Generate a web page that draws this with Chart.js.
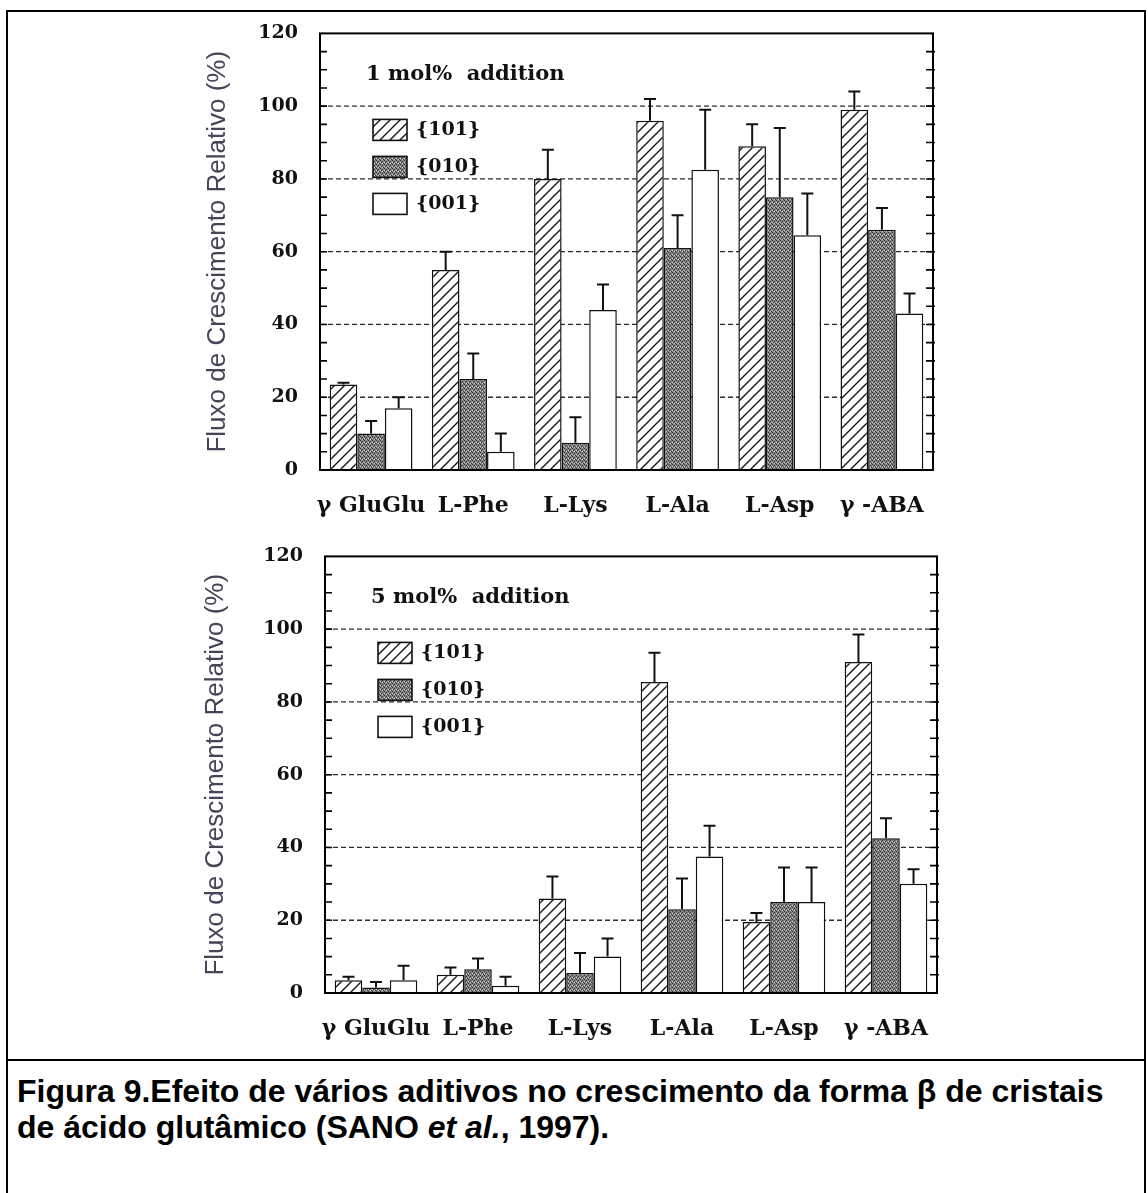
<!DOCTYPE html>
<html>
<head>
<meta charset="utf-8">
<script src="https://cdn.jsdelivr.net/npm/chart.js@4.4.0/dist/chart.umd.min.js"></script>
<style>
  html, body { margin: 0; padding: 0; background: #fff; }
  #page { position: relative; width: 1148px; height: 1193px; overflow: hidden; background: #fff; }
  .box { position: absolute; left: 6px; top: 10px; width: 1140px; height: 1200px;
         border: 2px solid #000; box-sizing: border-box; }
  .sep { position: absolute; left: 6px; top: 1059px; width: 1140px; height: 2px; background: #000; }
  canvas { position: absolute; left: 0; }
  #chartTop { top: 0; }
  #chartBottom { top: 523px; }
  .caption { position: absolute; left: 17px; top: 1073px; white-space: nowrap;
             font: bold 32px "Liberation Sans", Arial, sans-serif; line-height: 36px; color: #000; }
</style>
</head>
<body>
<div id="page">
  <div class="box"></div>
  <div class="sep"></div>
  <canvas id="chartTop" width="1148" height="540"></canvas>
  <canvas id="chartBottom" width="1148" height="540"></canvas>
  <div class="caption">Figura 9.Efeito de vários aditivos no crescimento da forma β de cristais<br>de ácido glutâmico (SANO <i>et al.</i>, 1997).</div>
</div>
<script>
// Additives on the x axis and crystal faces in the legend
const categories = ['γ GluGlu', 'L-Phe', 'L-Lys', 'L-Ala', 'L-Asp', 'γ -ABA'];
const faceLabels = ['{101}', '{010}', '{001}'];

// Relative growth flux (%) with 1 mol% additive
const face101_1mol = [23.5, 55, 80, 96, 89, 99];
const face010_1mol = [10, 25, 7.5, 61, 75, 66];
const face001_1mol = [17, 5, 44, 82.5, 64.5, 43];
const err101_1mol = [0.5, 5, 8, 6, 6, 5];
const err010_1mol = [3.5, 7, 7, 9, 19, 6];
const err001_1mol = [3, 5, 7, 16.5, 11.5, 5.5];

// Relative growth flux (%) with 5 mol% additive
const face101_5mol = [3.5, 5, 26, 85.5, 19.5, 91];
const face010_5mol = [1.5, 6.5, 5.5, 23, 25, 42.5];
const face001_5mol = [3.5, 2, 10, 37.5, 25, 30];
const err101_5mol = [1, 2, 6, 8, 2.5, 7.5];
const err010_5mol = [1.5, 3, 5.5, 8.5, 9.5, 5.5];
const err001_5mol = [4, 2.5, 5, 8.5, 9.5, 4];

// Axis
const yMin = 0, yMax = 120, yStep = 20;
const gridValues = [20, 40, 60, 80, 100];
const yAxisTitle = 'Fluxo de Crescimento Relativo (%)';
const panelTitles = ['1 mol%  addition', '5 mol%  addition'];

const SERIF = '"DejaVu Serif", "Liberation Serif", serif';

// Fill patterns for the three faces
function hatchPattern() {
  const s = 10;
  const c = document.createElement('canvas');
  c.width = s; c.height = s;
  const g = c.getContext('2d');
  g.fillStyle = '#fff';
  g.fillRect(0, 0, s, s);
  g.strokeStyle = '#151515';
  g.lineWidth = 1.4;
  g.beginPath();
  g.moveTo(0, s); g.lineTo(s, 0);
  g.moveTo(-2, 2); g.lineTo(2, -2);
  g.moveTo(s - 2, s + 2); g.lineTo(s + 2, s - 2);
  g.stroke();
  return g.createPattern(c, 'repeat');
}
function stipplePattern() {
  const c = document.createElement('canvas');
  c.width = 4; c.height = 4;
  const g = c.getContext('2d');
  g.fillStyle = '#858585';
  g.fillRect(0, 0, 4, 4);
  g.fillStyle = '#333333';
  [[0, 0], [2, 1], [1, 2], [3, 3]].forEach(([x, y]) => g.fillRect(x, y, 1, 1));
  g.fillStyle = '#d0d0d0';
  [[2, 3], [0, 2]].forEach(([x, y]) => g.fillRect(x, y, 1, 1));
  return g.createPattern(c, 'repeat');
}
const fills = [hatchPattern(), stipplePattern(), '#ffffff'];

// Dashed grid, frame, minor ticks, error bars, panel title and legend
const panelDecor = {
  id: 'panelDecor',
  beforeDatasetsDraw(chart) {
    const { ctx, chartArea: a, scales: { y } } = chart;
    ctx.save();
    ctx.strokeStyle = '#2b2b2b';
    ctx.lineWidth = 1.3;
    ctx.setLineDash([5, 3]);
    gridValues.forEach(v => {
      const py = y.getPixelForValue(v);
      ctx.beginPath();
      ctx.moveTo(a.left, py);
      ctx.lineTo(a.right, py);
      ctx.stroke();
    });
    ctx.restore();
  },
  afterDatasetsDraw(chart, args, opts) {
    const { ctx, chartArea: a, scales: { y } } = chart;
    ctx.save();
    ctx.strokeStyle = '#111';
    ctx.lineWidth = 2;
    chart.data.datasets.forEach((ds, i) => {
      chart.getDatasetMeta(i).data.forEach((bar, j) => {
        const top = y.getPixelForValue(ds.data[j] + opts.errors[i][j]);
        ctx.beginPath();
        ctx.moveTo(bar.x, bar.y);
        ctx.lineTo(bar.x, top);
        ctx.moveTo(bar.x - 6, top);
        ctx.lineTo(bar.x + 6, top);
        ctx.stroke();
      });
    });

    ctx.strokeStyle = '#000';
    ctx.lineWidth = 2;
    ctx.strokeRect(a.left, a.top, a.right - a.left, a.bottom - a.top);

    ctx.lineWidth = 1.6;
    for (let v = yMin + 5; v < yMax; v += 5) {
      const py = y.getPixelForValue(v);
      ctx.beginPath();
      ctx.moveTo(a.left, py); ctx.lineTo(a.left + 7, py);
      ctx.moveTo(a.right - 7, py); ctx.lineTo(a.right + 2, py);
      ctx.stroke();
    }

    ctx.fillStyle = '#111';
    ctx.textBaseline = 'middle';
    ctx.textAlign = 'left';
    ctx.font = 'bold 21px ' + SERIF;
    ctx.fillText(opts.title, a.left + 46, a.top + 41);

    ctx.font = 'bold 19px ' + SERIF;
    chart.data.datasets.forEach((ds, i) => {
      const bx = a.left + 53, by = a.top + 86 + i * 37;
      ctx.fillStyle = ds.backgroundColor;
      ctx.fillRect(bx, by, 34, 21);
      ctx.lineWidth = 1.6;
      ctx.strokeStyle = '#111';
      ctx.strokeRect(bx, by, 34, 21);
      ctx.fillStyle = '#111';
      ctx.fillText(ds.label, bx + 43, by + 11);
    });
    ctx.restore();
  }
};

function makeChart(id, series, errors, title, pad, yWidth) {
  return new Chart(document.getElementById(id), {
    type: 'bar',
    data: {
      labels: categories,
      datasets: series.map((d, i) => ({
        label: faceLabels[i],
        data: d,
        backgroundColor: fills[i],
        borderColor: '#111',
        borderWidth: 1.5,
        categoryPercentage: 0.81,
        barPercentage: 1.0
      }))
    },
    options: {
      responsive: false,
      animation: false,
      events: [],
      layout: { padding: pad },
      plugins: {
        legend: { display: false },
        tooltip: { enabled: false },
        panelDecor: { errors: errors, title: title }
      },
      scales: {
        x: {
          grid: { display: false, drawTicks: false },
          border: { display: false },
          ticks: {
            color: '#111', padding: 23, maxRotation: 0, autoSkip: false,
            font: { family: SERIF, weight: 'bold', size: 22 }
          },
          afterFit(s) { s.height = 70; }
        },
        y: {
          min: yMin, max: yMax,
          grid: { display: false, drawTicks: false },
          border: { display: false },
          ticks: {
            stepSize: yStep, color: '#111', padding: 22,
            font: { family: SERIF, weight: 'bold', size: 19 }
          },
          title: {
            display: true, text: yAxisTitle, color: '#45455a', padding: 0,
            font: { family: '"Liberation Sans", Arial, sans-serif', size: 26 }
          },
          afterFit(s) { s.width = yWidth; }
        }
      }
    },
    plugins: [panelDecor]
  });
}

makeChart('chartTop',
  [face101_1mol, face010_1mol, face001_1mol],
  [err101_1mol, err010_1mol, err001_1mol],
  panelTitles[0],
  { left: 202, top: 29, right: 215, bottom: 0 }, 118);

makeChart('chartBottom',
  [face101_5mol, face010_5mol, face001_5mol],
  [err101_5mol, err010_5mol, err001_5mol],
  panelTitles[1],
  { left: 200, top: 29, right: 211, bottom: 0 }, 125);
</script>
</body>
</html>
